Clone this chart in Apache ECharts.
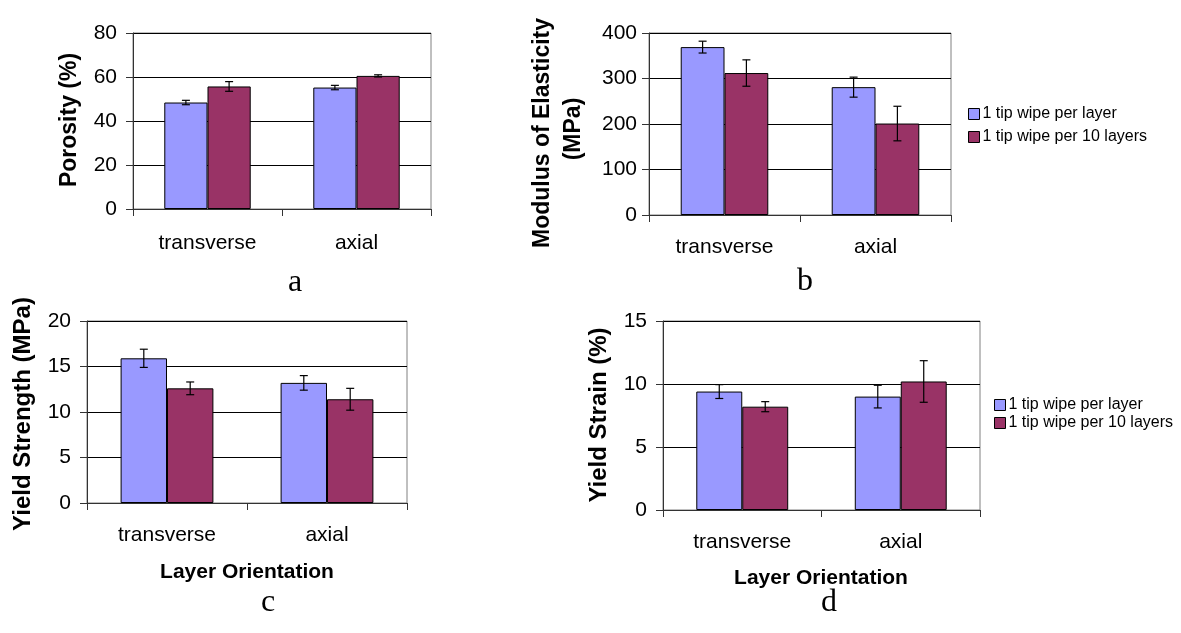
<!DOCTYPE html>
<html>
<head>
<meta charset="utf-8">
<script src="https://cdn.jsdelivr.net/npm/echarts@6/dist/echarts.min.js"></script>
<style>
html,body{margin:0;padding:0;background:#fff;}
#chart{width:1181px;height:633px;}
</style>
</head>
<body>
<div id="chart"></div>
<script>
const categories = ['transverse', 'axial'];
const seriesNames = ['1 tip wipe per layer', '1 tip wipe per 10 layers'];

const porosityLayer = [48.4, 55.2];
const porosityLayerErr = [1.0, 1.0];
const porosity10 = [55.7, 60.5];
const porosity10Err = [2.2, 0.5];

const modulusLayer = [369, 281];
const modulusLayerErr = [13, 22];
const modulus10 = [312, 201];
const modulus10Err = [29, 38];

const strengthLayer = [15.9, 13.2];
const strengthLayerErr = [1.0, 0.8];
const strength10 = [12.6, 11.4];
const strength10Err = [0.7, 1.2];

const strainLayer = [9.4, 9.0];
const strainLayerErr = [0.55, 0.9];
const strain10 = [8.2, 10.2];
const strain10Err = [0.4, 1.65];

const yTicksA = {min: 0, max: 80, interval: 20};
const yTicksB = {min: 0, max: 400, interval: 100};
const yTicksC = {min: 0, max: 20, interval: 5};
const yTicksD = {min: 0, max: 15, interval: 5};

const FONT = 'Liberation Sans, Arial, sans-serif';
const SERIF = 'Liberation Serif, Times New Roman, serif';
const BLUE = '#9999FF';
const RED = '#993366';
const GAP = 0.42;

const grids = [
  {left: 133, top: 33, width: 298, height: 176},
  {left: 649, top: 33, width: 302, height: 182},
  {left: 87, top: 321, width: 320, height: 182},
  {left: 663, top: 321, width: 317, height: 189}
];
const yLabelMargins = [16, 12, 16, 16];
const xLabelMargins = [24, 22, 22, 22];

function xAxisFor(i) {
  return {
    type: 'category', gridIndex: i, data: categories,
    axisLine: {lineStyle: {color: '#333', width: 1}},
    axisTick: {show: true, length: 7, lineStyle: {color: '#333'}},
    axisLabel: {color: '#000', fontSize: 21, fontFamily: FONT, margin: xLabelMargins[i]}
  };
}
function yAxisFor(i, t) {
  return {
    type: 'value', gridIndex: i, min: t.min, max: t.max, interval: t.interval,
    axisLine: {show: true, lineStyle: {color: '#333', width: 1}},
    axisTick: {show: true, length: 7, lineStyle: {color: '#333'}},
    axisLabel: {color: '#000', fontSize: 21, fontFamily: FONT, margin: yLabelMargins[i]},
    splitLine: {show: true, lineStyle: {color: '#000', width: 1}}
  };
}
function barSeries(i, name, values, color) {
  return {
    type: 'bar', name: name, xAxisIndex: i, yAxisIndex: i, data: values,
    barGap: '0%', barCategoryGap: (GAP * 100) + '%',
    itemStyle: {color: color, borderColor: '#000', borderWidth: 1},
    emphasis: {disabled: true}, animation: false, z: 2
  };
}
function errSeries(i, name, values, errs, side) {
  return {
    type: 'custom', name: name, xAxisIndex: i, yAxisIndex: i,
    data: values.map((v, k) => [k, v, errs[k]]),
    encode: {x: 0, y: 1},
    z: 5, animation: false, silent: true,
    renderItem: function (params, api) {
      const k = api.value(0), v = api.value(1), e = api.value(2);
      const catW = api.size([1, 0])[0];
      const bw = catW * (1 - GAP) / 2;
      const top = api.coord([k, v + e]);
      const bot = api.coord([k, v - e]);
      const x = top[0] + side * bw / 2;
      const cap = 4;
      const style = {stroke: '#000', lineWidth: 1.2};
      return {
        type: 'group',
        children: [
          {type: 'line', shape: {x1: x, y1: top[1], x2: x, y2: bot[1]}, style: style},
          {type: 'line', shape: {x1: x - cap, y1: top[1], x2: x + cap, y2: top[1]}, style: style},
          {type: 'line', shape: {x1: x - cap, y1: bot[1], x2: x + cap, y2: bot[1]}, style: style}
        ]
      };
    }
  };
}

const panels = [
  [porosityLayer, porosityLayerErr, porosity10, porosity10Err],
  [modulusLayer, modulusLayerErr, modulus10, modulus10Err],
  [strengthLayer, strengthLayerErr, strength10, strength10Err],
  [strainLayer, strainLayerErr, strain10, strain10Err]
];
const ticks = [yTicksA, yTicksB, yTicksC, yTicksD];

const series = [];
panels.forEach((p, i) => {
  series.push(barSeries(i, seriesNames[0], p[0], BLUE));
  series.push(barSeries(i, seriesNames[1], p[2], RED));
  series.push(errSeries(i, seriesNames[0], p[0], p[1], -1));
  series.push(errSeries(i, seriesNames[1], p[2], p[3], 1));
});

function vText(txt, x, y, size) {
  return {type: 'text', x: x, y: y, rotation: Math.PI / 2,
    style: {text: txt, font: 'bold ' + size + 'px ' + FONT, fill: '#000', align: 'center', verticalAlign: 'middle'}};
}
function hText(txt, x, y, font) {
  return {type: 'text', x: x, y: y,
    style: {text: txt, font: font, fill: '#000', align: 'center', verticalAlign: 'middle'}};
}
const legendBase = {
  orient: 'vertical', itemWidth: 11, itemHeight: 11, itemGap: 7, padding: 0,
  icon: 'rect', data: seriesNames, selectedMode: false,
  itemStyle: {borderColor: '#000', borderWidth: 1},
  textStyle: {fontSize: 16, fontFamily: FONT, color: '#000', padding: [0, 0, 0, -2]}
};

const option = {
  animation: false,
  backgroundColor: '#fff',
  color: [BLUE, RED],
  grid: grids.map(g => Object.assign({show: true, borderColor: '#808080', borderWidth: 1, backgroundColor: 'transparent'}, g)),
  xAxis: grids.map((g, i) => xAxisFor(i)),
  yAxis: grids.map((g, i) => yAxisFor(i, ticks[i])),
  legend: [
    Object.assign({}, legendBase, {left: 968, top: 106}),
    Object.assign({}, legendBase, {left: 994, top: 397, itemGap: 2})
  ],
  series: series,
  graphic: [
    vText('Porosity (%)', 70, 120, 23),
    vText('Modulus of Elasticity', 543, 133, 23),
    vText('(MPa)', 574, 129, 23),
    vText('Yield Strength (MPa)', 23, 414, 24),
    vText('Yield Strain (%)', 599, 415, 24),
    hText('Layer Orientation', 247, 572, 'bold 21px ' + FONT),
    hText('Layer Orientation', 821, 578, 'bold 21px ' + FONT),
    hText('a', 295, 283, '32px ' + SERIF),
    hText('b', 805, 282, '32px ' + SERIF),
    hText('c', 268, 603, '32px ' + SERIF),
    hText('d', 829, 603, '32px ' + SERIF)
  ]
};

const chart = echarts.init(document.getElementById('chart'), null, {renderer: 'canvas'});
chart.setOption(option);
</script>
</body>
</html>
